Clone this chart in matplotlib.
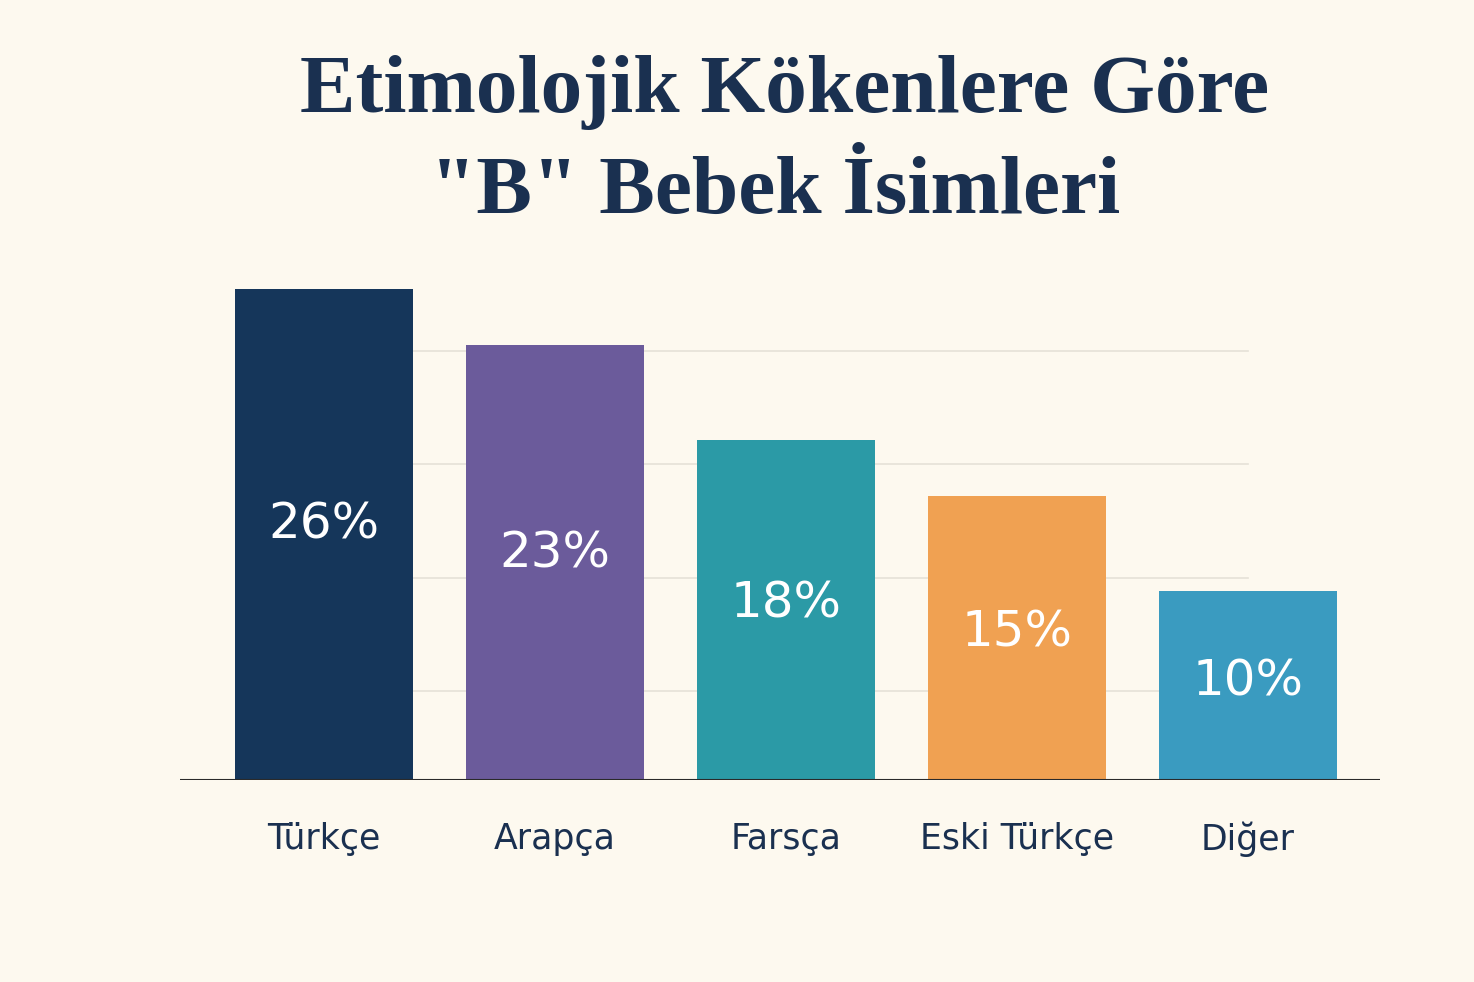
import matplotlib
matplotlib.use("Agg")
import matplotlib.pyplot as plt

categories = ["Türkçe", "Arapça", "Farsça", "Eski Türkçe", "Diğer"]
values = [26, 23, 18, 15, 10]
labels = ["26%", "23%", "18%", "15%", "10%"]
colors = ["#15365a", "#6b5b9b", "#2b9aa6", "#f0a152", "#3a9bc0"]
bg = "#fdf9ef"
navy = "#1a3050"

fig = plt.figure(figsize=(14.74, 9.82), dpi=100, facecolor=bg)
ax = fig.add_axes([180/1474, (982-780)/982, 1200/1474, 530/982], facecolor=bg)
x = list(range(len(categories)))
ax.set_xlim(-0.623, 4.571)
ax.set_ylim(0, 28.04)
for gy in [4.7, 10.7, 16.7, 22.7]:
    ax.plot([0.2, 4.0], [gy, gy], color="#e6e2d8", lw=1.2, zorder=0)
ax.bar(x, values, width=0.77, color=colors, zorder=2)
for xi, v, l in zip(x, values, labels):
    ax.text(xi, v * 0.52, l, ha="center", va="center", color="white",
            fontsize=36, fontweight="medium", zorder=3)
ax.axhline(0, color="#2a2a2a", lw=1.5, zorder=4)
ax.set_xticks(x)
ax.set_xticklabels(categories, fontsize=25, color=navy, fontweight="medium")
ax.tick_params(axis="x", length=0, pad=30)
ax.set_yticks([])
for s in ax.spines.values():
    s.set_visible(False)

fig.text(785/1474, 1 - 92/982, "Etimolojik Kökenlere Göre", ha="center", va="center",
         fontsize=60, fontweight="bold", family="Liberation Serif", color=navy)
fig.text(775/1474, 1 - 193/982, "\"B\" Bebek İsimleri", ha="center", va="center",
         fontsize=60, fontweight="bold", family="Liberation Serif", color=navy)
fig.savefig("out.png", dpi=100, facecolor=bg)
